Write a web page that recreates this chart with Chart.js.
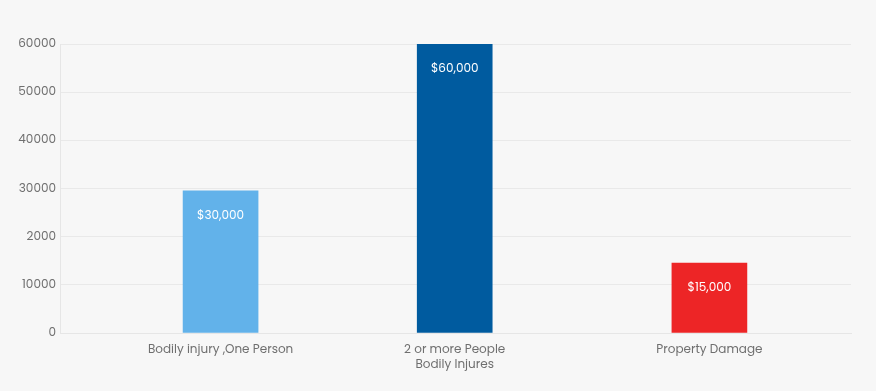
<!DOCTYPE html>
<html>
<head>
<meta charset="utf-8">
<script src="https://cdn.jsdelivr.net/npm/chart.js@4/dist/chart.umd.min.js"></script>
<style>
  html, body { margin: 0; padding: 0; background: #f7f7f7; }
  #wrap { width: 876px; height: 391px; }
</style>
</head>
<body>
<div id="wrap"><canvas id="chart"></canvas></div>
<script>
// data
const categories = [["Bodily injury ,One Person"], ["2 or more People", "Bodily Injures"], ["Property Damage"]]
const slots = [20.3, 49.9, 82.1]   // where each category sits along the x axis (0-100)
const values = [29500, 60000, 14500]
const valueLabels = ["$30,000", "$60,000", "$15,000"]
const barColors = ["#62b2ea", "#005b9f", "#ed2526"]
const yTicks = [0, 10000, 20000, 30000, 40000, 50000, 60000]
const yTickLabels = ["0", "10000", "2000", "30000", "40000", "50000", "60000"]

const font = "Poppins, Lato, 'Noto Sans', sans-serif"

// white value text inside the top of each bar
const barText = {
  id: "barText",
  afterDatasetsDraw(chart) {
    const ctx = chart.ctx
    const meta = chart.getDatasetMeta(0)
    ctx.save()
    ctx.fillStyle = "#ffffff"
    ctx.font = "12px " + font
    ctx.textAlign = "center"
    ctx.textBaseline = "middle"
    meta.data.forEach((bar, i) => {
      ctx.fillText(valueLabels[i], bar.x, bar.y + 25)
    })
    ctx.restore()
  }
}

const ctx = document.getElementById("chart").getContext("2d")
new Chart(ctx, {
  type: "bar",
  data: {
    datasets: [{
      data: values.map((v, i) => ({ x: slots[i], y: v })),
      backgroundColor: barColors,
      barThickness: 75
    }]
  },
  options: {
    responsive: true,
    maintainAspectRatio: false,
    animation: false,
    layout: { padding: { top: 44, right: 25, left: 0, bottom: 0 } },
    plugins: {
      legend: { display: false },
      tooltip: { enabled: false }
    },
    scales: {
      x: {
        type: "linear",
        min: 0,
        max: 100,
        offset: false,
        afterBuildTicks: scale => { scale.ticks = slots.map(v => ({ value: v })) },
        afterFit: scale => { scale.height = 58 },
        grid: { display: false, drawTicks: false },
        border: { display: true, color: "#e6e6e6" },
        ticks: {
          padding: 9,
          color: "#6f6f6f",
          font: { family: font, size: 12, lineHeight: 1.25 },
          maxRotation: 0,
          callback: (v) => categories[slots.indexOf(v)]
        }
      },
      y: {
        min: 0,
        max: 60000,
        afterBuildTicks: scale => { scale.ticks = yTicks.map(v => ({ value: v })) },
        afterFit: scale => { scale.width = 60 },
        grid: { color: "#e9e9e9", drawTicks: false },
        border: { display: true, color: "#e6e6e6" },
        ticks: {
          padding: 4,
          color: "#6f6f6f",
          font: { family: font, size: 12 },
          callback: (v) => yTickLabels[yTicks.indexOf(v)]
        }
      }
    }
  },
  plugins: [barText]
})
</script>
</body>
</html>
